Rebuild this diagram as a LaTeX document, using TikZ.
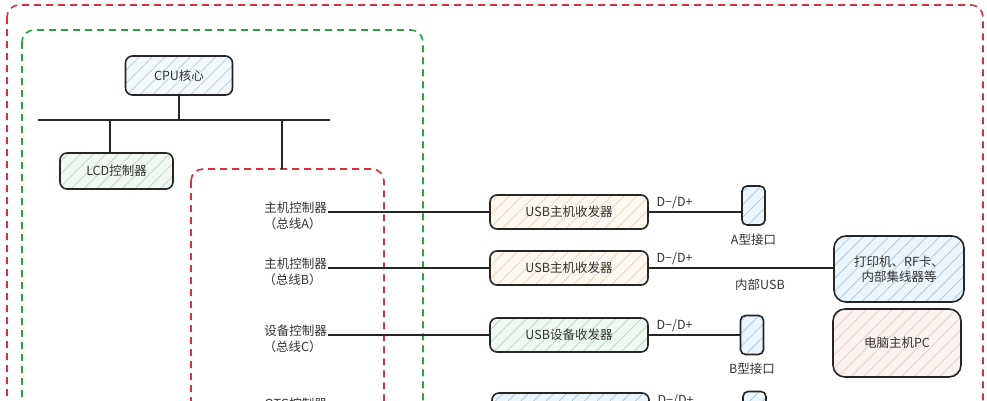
\documentclass[tikz,border=0pt]{standalone}
\usepackage{fontspec}
\setmainfont{Noto Sans CJK SC}
\usepackage{xcolor}
\usetikzlibrary{positioning}
\usetikzlibrary{patterns.meta}
\usetikzlibrary{calc}

\definecolor{framered}{RGB}{220,45,65}
\definecolor{framegreen}{RGB}{45,160,70}
\definecolor{cpuF}{RGB}{243,248,251}
\definecolor{cpuL}{RGB}{185,205,218}
\definecolor{lcdF}{RGB}{241,248,241}
\definecolor{lcdL}{RGB}{188,216,192}
\definecolor{hostF}{RGB}{252,248,240}
\definecolor{hostL}{RGB}{232,212,182}
\definecolor{devF}{RGB}{240,248,242}
\definecolor{devL}{RGB}{184,216,192}
\definecolor{portF}{RGB}{236,245,251}
\definecolor{portL}{RGB}{168,198,218}
\definecolor{pcF}{RGB}{252,243,241}
\definecolor{pcL}{RGB}{230,204,200}

\tikzset{
  unit/.style 2 args={draw=black!85, line width=1.6pt, rounded corners=7pt,
    preaction={fill=#1}, pattern={Lines[angle=45,distance=9pt,line width=0.7pt]},
    pattern color=#2, align=center, text=black!80},
  frame/.style={draw=#1, line width=1.6pt, dash pattern=on 7pt off 5pt, rounded corners=12pt},
  wire/.style={draw=black!85, line width=1.6pt},
  dlabel/.style={pos=0, anchor=south west, xshift=5pt, inner sep=2pt, text=black!80},
  tag/.style={text=black!80, inner sep=1pt}
}

\begin{document}
\begin{tikzpicture}[x=1pt, y=-1pt, font=\fontsize{12.5}{15}\selectfont]
 \useasboundingbox (0,0) rectangle (987,400);
 \clip (0,0) rectangle (987,400);

 %frames
 \draw[frame=framered]   (7,5) rectangle (983,470);
 \draw[frame=framegreen] (22,30) rectangle (423,470);
 \draw[frame=framered]   (191,169) rectangle (384,470);

 %cpu and bus
 \node[unit={cpuF}{cpuL}, minimum width=107, minimum height=39] (CPU) at (179,75.5) {CPU核心};
 \node[unit={lcdF}{lcdL}, minimum width=113, minimum height=36] (LCD) at (116.5,171) {LCD控制器};
 \coordinate (busL) at (38,120);
 \coordinate (busR) at (330,120);
 \coordinate (tapL) at (110,120);
 \coordinate (tapR) at (282,120);
 \coordinate (ctlTop) at (282,169);
 \draw[wire] (busL) -- (busR);
 \draw[wire] (CPU.south) -- (CPU.south |- busL);
 \draw[wire] (tapL) -- (tapL |- LCD.north);
 \draw[wire] (tapR) -- (ctlTop);

 %level 2
 \foreach \y/\name/\first/\second/\fc/\lc/\txt in {212/A/主机控制器/（总线A）/hostF/hostL/USB主机收发器,
     268/B/主机控制器/（总线B）/hostF/hostL/USB主机收发器,
     335/C/设备控制器/（总线C）/devF/devL/USB设备收发器} {
   \node[unit={\fc}{\lc}, minimum width=158, minimum height=34] (U\name) at (569,\y) {\txt};
   \node[tag, anchor=east] (C\name) at (328,\y-4) {\first};
   \node[tag, below=2pt of C\name, xshift=-3pt] (S\name) {\second};
   \draw[wire] (C\name.east |- U\name.west) -- (U\name.west);
 }

 %otg row (cut)
 \node[unit={portF}{portL}, minimum width=157, minimum height=34] (UD) at (570.5,410) {};
 \node[tag, anchor=east] (CD) at (328,404) {OTG控制器};
 \draw[wire] (CD.east |- UD.west) -- (UD.west);

 %ports
 \node[unit={portF}{portL}, minimum width=23, minimum height=39, rounded corners=5pt] (PA) at (753.5,205.5) {};
 \node[unit={portF}{portL}, minimum width=23, minimum height=39, rounded corners=5pt] (PB) at (752,335) {};
 \node[unit={portF}{portL}, minimum width=23, minimum height=39, rounded corners=5pt] (PD) at (754.5,411) {};
 \node[tag, below=7pt of PA] (tagA) {A型接口};
 \node[tag, below=7pt of PB] (tagB) {B型接口};

 %outside
 \node[unit={portF}{portL}, minimum width=130, minimum height=66, rounded corners=12pt] (PR) at (899,269) {打印机、RF卡、\\内部集线器等};
 \node[unit={pcF}{pcL}, minimum width=128, minimum height=68, rounded corners=12pt] (PC) at (897,343) {电脑主机PC};

 %d-/d+ lines
 \draw[wire] (UA.east) -- node[dlabel] {D−/D+} (UA.east -| PA.west);
 \draw[wire] (UB.east) -- node[dlabel] {D−/D+} (UB.east -| PR.west);
 \draw[wire] (UC.east) -- node[dlabel] {D−/D+} (UC.east -| PB.west);
 \draw[wire] (UD.east) -- node[dlabel] {D−/D+} (UD.east -| PD.west);
 \node[tag] (intusb) at (760,285) {内部USB};

\end{tikzpicture}
\end{document}
